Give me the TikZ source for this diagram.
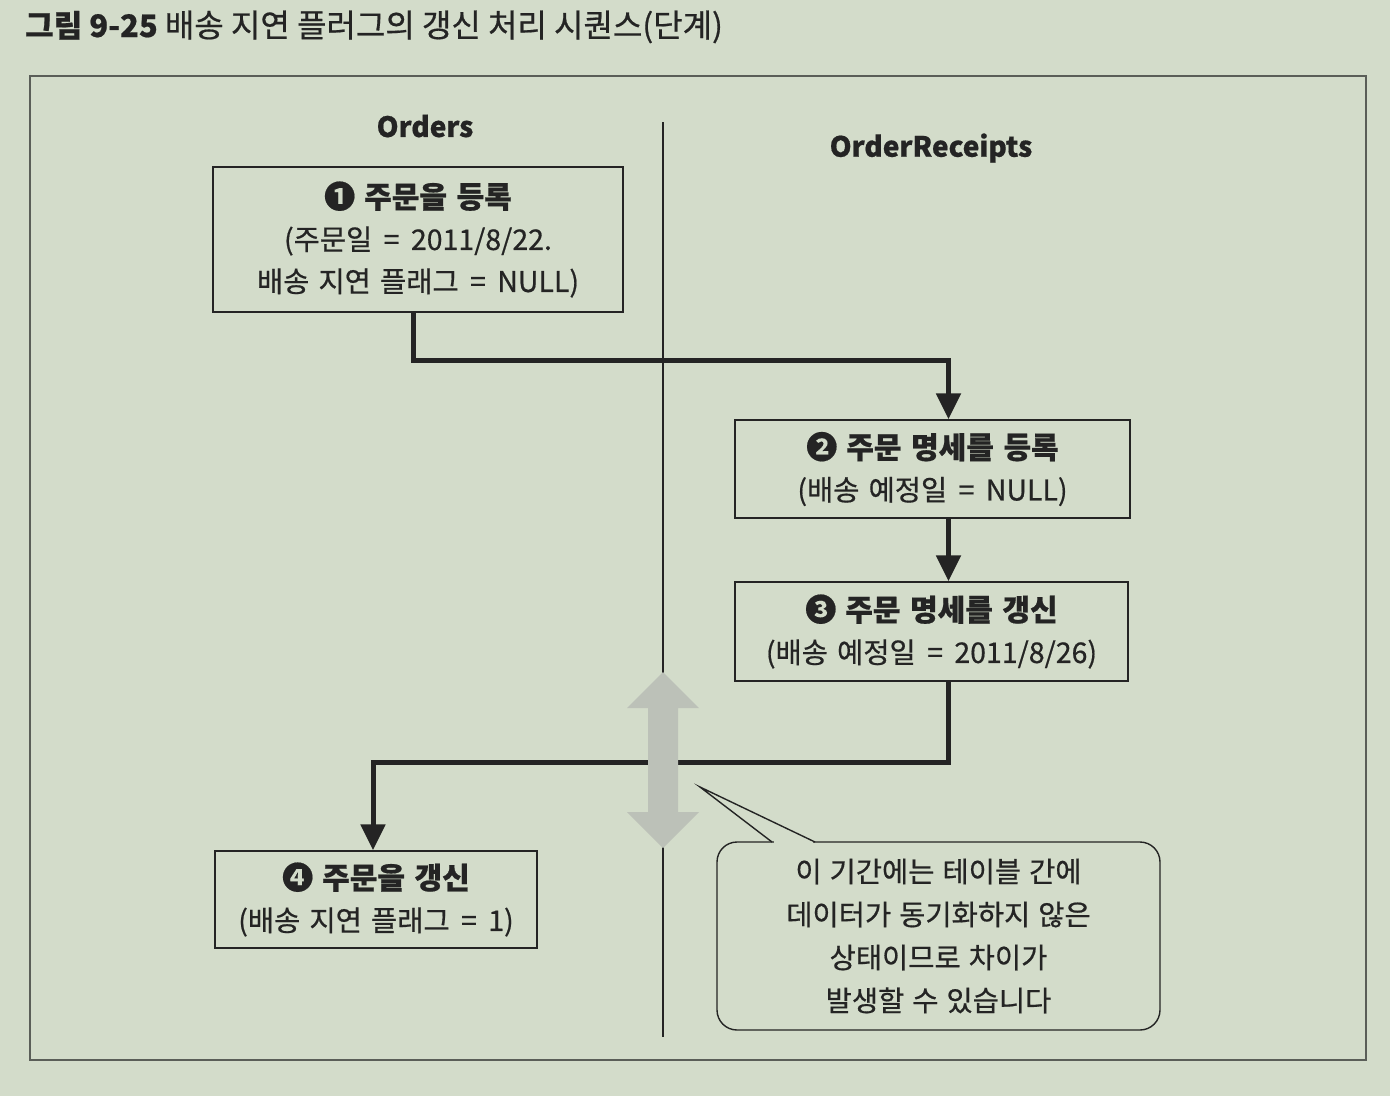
\documentclass[tikz,border=0pt]{standalone}
\usepackage{fontspec}
\setmainfont[FakeBold=0.6]{Noto Sans CJK KR}
\usetikzlibrary{arrows.meta}
\definecolor{bgc}{HTML}{D3DCCA}
\definecolor{ink}{HTML}{242424}
\definecolor{framec}{HTML}{5A5E58}
\definecolor{sync}{HTML}{BCC1B8}
\newcommand{\widesp}{\spaceskip=0.32em\relax}
\newcommand{\numc}[1]{{\fontsize{31}{31}\selectfont #1}\hspace{0.3em}}
\newcommand{\heading}[1]{{\fontsize{30}{42}\selectfont\bfseries\widesp #1}}
\newcommand{\eqs}{\hspace{0.4em}=\hspace{0.4em}}
\tikzset{
  stepbox/.style={draw=ink, line width=1.4pt, align=center, text=ink, inner sep=0pt,
    font={\fontsize{28.5}{42}\selectfont\widesp}},
  conn/.style={draw=ink, line width=5pt, line cap=butt, line join=miter,
    -{Triangle[length=26pt,width=24pt]}},
  lanehead/.style={text=ink, font={\fontsize{28}{34}\selectfont\bfseries}},
  note/.style={draw=ink, line width=1.4pt, rounded corners=20pt, align=center, text=ink,
    font={\fontsize{28.5}{43}\selectfont\spaceskip=0.28em\relax}, inner sep=0pt},
}
\begin{document}
\begin{tikzpicture}[x=1pt,y=-1pt]
\useasboundingbox (0,0) rectangle (1390,1096);
\fill[bgc] (0,0) rectangle (1390,1096);
% title
\node[anchor=base west, text=ink, inner sep=0pt, font={\fontsize{31}{36}\selectfont}] (title) at (25,37)
  {\bfseries 그림 9-25 \mdseries{\fontsize{32}{36}\selectfont 배송 지연 플러그의 갱신 처리 시퀀스(단계)}};
% frame
\draw[framec, line width=1.2pt] (30,76) rectangle (1366,1060);
% lane divider
\draw[ink, line width=1.5pt] (663,122) coordinate (dtop) -- (663,1037) coordinate (dbot);
% lane headers
\node[lanehead] (lane1) at (425,126) {Orders};
\node[lanehead] (lane2) at (931,148) {OrderReceipts};
% boxes
\node[stepbox, minimum width=410pt, minimum height=145pt] (b1) at (418,239.5)
  {\heading{\numc{❶}주문을 등록}\\(주문일\eqs 2011/8/22.\\배송 지연 플래그\eqs NULL)};
\node[stepbox, minimum width=395pt, minimum height=98pt] (b2) at (932.5,469)
  {\heading{\numc{❷}주문 명세를 등록}\\(배송 예정일\eqs NULL)};
\node[stepbox, minimum width=393pt, minimum height=99pt] (b3) at (931.5,631.5)
  {\heading{\numc{❸}주문 명세를 갱신}\\(배송 예정일\eqs 2011/8/26)};
\node[stepbox, minimum width=322pt, minimum height=97pt] (b4) at (376,899.5)
  {\heading{\numc{❹}주문을 갱신}\\(배송 지연 플래그\eqs 1)};
% connectors
\draw[conn] ([xshift=-5pt]b1.south) -- ++(0,48) -| ([xshift=16pt]b2.north);
\draw[conn] ([xshift=16pt]b2.south) -- ([xshift=16pt]b2.south |- b3.north);
\draw[conn] ([xshift=17pt]b3.south) -- ++(0,81) -| ([xshift=-3pt]b4.north);
% inconsistency period double arrow
\fill[sync] (663,672) -- (699,708) -- (678,708) -- (678,812) -- (699,812) -- (663,848)
  -- (627,812) -- (648,812) -- (648,708) -- (627,708) -- cycle;
% callout
\node[note, minimum width=443pt, minimum height=188pt] (note) at (938.5,936)
  {이 기간에는 테이블 간에\\데이터가 동기화하지 않은\\상태이므로 차이가\\발생할 수 있습니다};
\coordinate (tip) at (700,787);
\fill[bgc] (774,839) rectangle (813,846);
\draw[ink, line width=1.4pt, line join=miter] (772,842) -- (tip) -- (815,842);
\end{tikzpicture}
\end{document}
